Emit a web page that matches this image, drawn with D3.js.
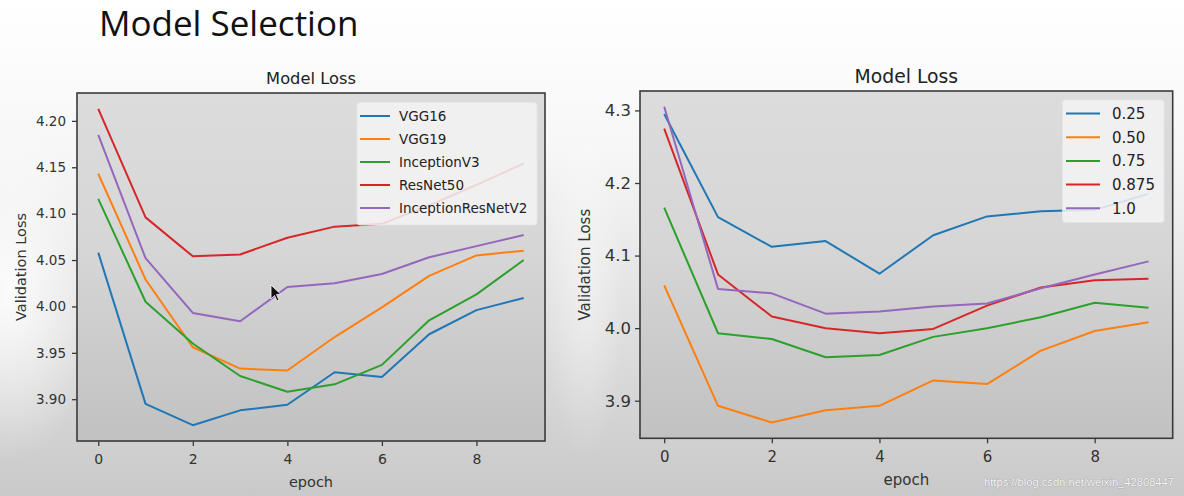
<!DOCTYPE html>
<html>
<head>
<meta charset="utf-8">
<script src="https://cdn.jsdelivr.net/npm/d3@7"></script>
<style>
  html, body { margin: 0; padding: 0; background: #fff; }
  svg { display: block; }
  .tick text { font-family: "DejaVu Sans", sans-serif; fill: #333; }
</style>
</head>
<body>
<svg id="chart" width="1184" height="496"></svg>
<script>
// ---------- data ----------
const epochs = [0, 1, 2, 3, 4, 5, 6, 7, 8, 9];

// Left chart: model comparison
const modelNames = ["VGG16", "VGG19", "InceptionV3", "ResNet50", "InceptionResNetV2"];
const vgg16 = [4.058, 3.895, 3.872, 3.888, 3.894, 3.929, 3.924, 3.970, 3.996, 4.009];
const vgg19 = [4.143, 4.029, 3.956, 3.933, 3.931, 3.967, 3.999, 4.033, 4.055, 4.060];
const inceptionV3 = [4.116, 4.005, 3.960, 3.925, 3.908, 3.916, 3.937, 3.985, 4.013, 4.050];
const resNet50 = [4.213, 4.096, 4.054, 4.056, 4.074, 4.086, 4.089, 4.109, 4.131, 4.154];
const inceptionResNetV2 = [4.185, 4.052, 3.993, 3.984, 4.021, 4.025, 4.035, 4.053, 4.065, 4.077];
const leftYTicks = [3.90, 3.95, 4.00, 4.05, 4.10, 4.15, 4.20];

// Right chart: width multiplier comparison
const alphaNames = ["0.25", "0.50", "0.75", "0.875", "1.0"];
const a025 = [4.295, 4.153, 4.112, 4.120, 4.075, 4.128, 4.154, 4.161, 4.163, 4.185];
const a050 = [4.059, 3.893, 3.870, 3.887, 3.893, 3.928, 3.923, 3.969, 3.996, 4.008];
const a075 = [4.166, 3.993, 3.985, 3.960, 3.963, 3.988, 4.000, 4.015, 4.035, 4.028];
const a0875 = [4.275, 4.074, 4.016, 4.000, 3.993, 3.999, 4.031, 4.056, 4.066, 4.068];
const a100 = [4.305, 4.054, 4.048, 4.020, 4.023, 4.030, 4.034, 4.055, 4.074, 4.092];
const rightYTicks = [3.9, 4.0, 4.1, 4.2, 4.3];

const xTicks = [0, 2, 4, 6, 8];
const colors = ["#1f77b4", "#ff7f0e", "#2ca02c", "#d62728", "#9467bd"];

// ---------- drawing ----------
const svg = d3.select("#chart");
const defs = svg.append("defs");

const bg = defs.append("linearGradient").attr("id", "bgGrad")
  .attr("x1", 0).attr("y1", 0).attr("x2", 0).attr("y2", 1);
bg.append("stop").attr("offset", "0%").attr("stop-color", "#ffffff");
bg.append("stop").attr("offset", "30%").attr("stop-color", "#f7f7f7");
bg.append("stop").attr("offset", "100%").attr("stop-color", "#c9c9c9");

const glow = defs.append("radialGradient").attr("id", "glow")
  .attr("cx", 0.5).attr("cy", 0.5).attr("r", 0.5);
glow.append("stop").attr("offset", "0%").attr("stop-color", "#ffffff").attr("stop-opacity", 0.9);
glow.append("stop").attr("offset", "100%").attr("stop-color", "#ffffff").attr("stop-opacity", 0);

const pg = defs.append("linearGradient").attr("id", "plotGrad")
  .attr("x1", 0).attr("y1", 0).attr("x2", 0).attr("y2", 1);
pg.append("stop").attr("offset", "0%").attr("stop-color", "#dcdcdc");
pg.append("stop").attr("offset", "45%").attr("stop-color", "#d6d6d6");
pg.append("stop").attr("offset", "100%").attr("stop-color", "#c1c1c1");

svg.append("rect").attr("width", 1184).attr("height", 496).attr("fill", "url(#bgGrad)");
svg.append("ellipse").attr("cx", 10).attr("cy", 290).attr("rx", 90).attr("ry", 170).attr("fill", "url(#glow)");
svg.append("ellipse").attr("cx", 585).attr("cy", 290).attr("rx", 40).attr("ry", 170).attr("fill", "url(#glow)").attr("opacity", 0.5);

// Slide title
svg.append("text").attr("x", 99).attr("y", 36)
  .attr("font-family", "'Open Sans', sans-serif").attr("font-size", 35)
  .attr("fill", "#111").text("Model Selection");

function drawChart(cfg) {
  const { left, right, top, bottom, series, names, yTicks, yFmt,
          tickFont, titleFont, labelFont, legendFont, legend } = cfg;
  const all = series.flat();
  const mn = d3.min(all), mx = d3.max(all), pad = (mx - mn) * 0.05;
  const x = d3.scaleLinear().domain([-0.45, 9.45]).range([left, right]);
  const y = d3.scaleLinear().domain([mn - pad, mx + pad]).range([bottom, top]);

  const g = svg.append("g");
  g.append("rect").attr("x", left).attr("y", top)
    .attr("width", right - left).attr("height", bottom - top)
    .attr("fill", "url(#plotGrad)");

  const line = d3.line().x((d, i) => x(epochs[i])).y(d => y(d));
  g.selectAll("path.series").data(series).join("path")
    .attr("class", "series")
    .attr("d", d => line(d))
    .attr("fill", "none")
    .attr("stroke", (d, i) => colors[i])
    .attr("stroke-width", 2)
    .attr("stroke-linejoin", "round");

  // frame
  g.append("rect").attr("x", left).attr("y", top)
    .attr("width", right - left).attr("height", bottom - top)
    .attr("fill", "none").attr("stroke", "#3a3a3a").attr("stroke-width", 1.6);

  // axes
  const ya = g.append("g").attr("transform", `translate(${left},0)`)
    .call(d3.axisLeft(y).tickValues(yTicks).tickFormat(d3.format(yFmt)).tickSize(5).tickPadding(cfg.yPad));
  const xa = g.append("g").attr("transform", `translate(0,${bottom})`)
    .call(d3.axisBottom(x).tickValues(xTicks).tickFormat(d3.format("d")).tickSize(5).tickPadding(cfg.xPad));
  [ya, xa].forEach(a => {
    a.select(".domain").remove();
    a.selectAll(".tick line").attr("stroke", "#3a3a3a").attr("stroke-width", 1.3);
    a.selectAll(".tick text").attr("font-size", tickFont);
  });
  xa.selectAll(".tick text").attr("font-size", cfg.xTickFont);

  // title and labels
  const cx = (left + right) / 2, cy = (top + bottom) / 2;
  g.append("text").attr("x", cx).attr("y", cfg.titleY).attr("text-anchor", "middle")
    .attr("font-family", "'DejaVu Sans', sans-serif").attr("font-size", titleFont)
    .attr("fill", "#222").text("Model Loss");
  g.append("text").attr("x", cx).attr("y", cfg.xLabelY).attr("text-anchor", "middle")
    .attr("font-family", "'DejaVu Sans', sans-serif").attr("font-size", labelFont)
    .attr("fill", "#333").text("epoch");
  g.append("text").attr("transform", `translate(${cfg.yLabelX},${cy}) rotate(-90)`)
    .attr("text-anchor", "middle")
    .attr("font-family", "'DejaVu Sans', sans-serif").attr("font-size", labelFont)
    .attr("fill", "#333").text("Validation Loss");

  // legend
  const lg = g.append("g");
  lg.append("rect").attr("x", legend.x).attr("y", legend.y)
    .attr("width", legend.w).attr("height", legend.h).attr("rx", 3)
    .attr("fill", "#f3f3f3").attr("fill-opacity", 0.86)
    .attr("stroke", "#e6e6e6").attr("stroke-width", 0.8);
  names.forEach((n, i) => {
    const yy = legend.row0 + i * legend.dy;
    lg.append("line").attr("x1", legend.hx).attr("x2", legend.hx + legend.hw)
      .attr("y1", yy).attr("y2", yy)
      .attr("stroke", colors[i]).attr("stroke-width", 2);
    lg.append("text").attr("x", legend.tx).attr("y", yy).attr("dy", "0.36em")
      .attr("font-family", "'DejaVu Sans', sans-serif").attr("font-size", legendFont)
      .attr("fill", "#222").text(n);
  });
}

drawChart({
  left: 77, right: 545, top: 93, bottom: 441,
  series: [vgg16, vgg19, inceptionV3, resNet50, inceptionResNetV2],
  names: modelNames, yTicks: leftYTicks, yFmt: ".2f",
  tickFont: 13.5, xTickFont: 14, titleFont: 16.3, labelFont: 14.5, legendFont: 13.5,
  yPad: 6, xPad: 8, titleY: 84, xLabelY: 487, yLabelX: 26,
  legend: { x: 357, y: 102.5, w: 180, h: 122.5, row0: 116, dy: 23, hx: 360, hw: 30, tx: 399 }
});

drawChart({
  left: 640, right: 1172.7, top: 91, bottom: 438.3,
  series: [a025, a050, a075, a0875, a100],
  names: alphaNames, yTicks: rightYTicks, yFmt: ".1f",
  tickFont: 16.5, xTickFont: 15, titleFont: 18.8, labelFont: 15, legendFont: 15,
  yPad: 4, xPad: 8.5, titleY: 82.5, xLabelY: 485, yLabelX: 590,
  legend: { x: 1062.5, y: 100, w: 101.5, h: 122.5, row0: 113.5, dy: 23.7, hx: 1066, hw: 34, tx: 1112 }
});

// mouse cursor in the screenshot
svg.append("path")
  .attr("d", "M271,285 L271,299 L274.5,295.5 L277,301 L279,300 L276.5,294.5 L281,294.5 Z")
  .attr("fill", "#111").attr("stroke", "#fff").attr("stroke-width", 0.8);

// watermark
svg.append("text").attr("x", 984).attr("y", 486)
  .attr("font-family", "'Liberation Sans', Arial, sans-serif").attr("font-size", 11)
  .attr("textLength", 190).attr("lengthAdjust", "spacingAndGlyphs")
  .attr("fill", "#f6f6f6").attr("stroke", "#9a9a9a").attr("stroke-width", 0.6)
  .attr("paint-order", "stroke")
  .text("https://blog.csdn.net/weixin_42808447");
</script>
</body>
</html>
